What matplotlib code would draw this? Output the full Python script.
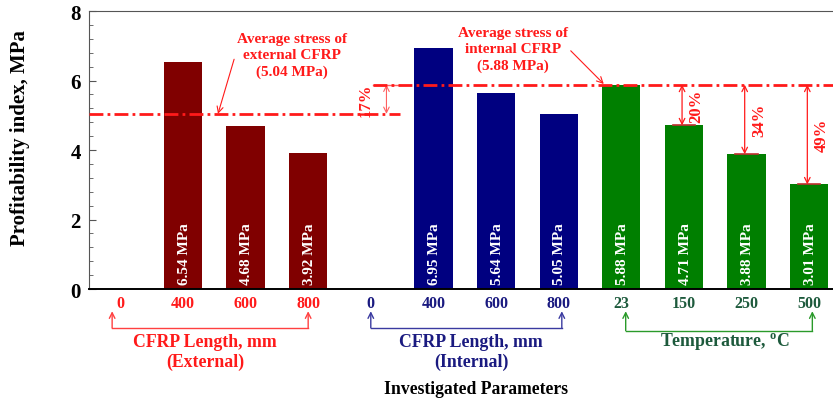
import matplotlib
matplotlib.use('Agg')
import matplotlib.pyplot as plt

plt.rcParams['font.family'] = ['Liberation Serif', 'DejaVu Serif']
plt.rcParams['font.weight'] = 'bold'

# data
ext_labels = ['0', '400', '600', '800']
ext_values = [0, 6.54, 4.68, 3.92]
int_labels = ['0', '400', '600', '800']
int_values = [0, 6.95, 5.64, 5.05]
temp_labels = ['23', '150', '250', '500']
temp_values = [5.88, 4.71, 3.88, 3.01]

avg_ext = 5.04
avg_int = 5.88
drop_ext = '17%'
drop_temp = ['20%', '34%', '49%']

RED = '#ff1a1a'
C_EXT = '#800000'
C_INT = '#000080'
C_TEMP = '#007f00'
T_INT = '#1a1a80'
T_TEMP = '#1d5a3c'


def main():
    fig = plt.figure(figsize=(8.33, 4.02), dpi=100)
    ax = fig.add_axes([0.1068, 0.2786, 0.8932, 0.6915])

    labels = ext_labels + int_labels + temp_labels
    values = ext_values + int_values + temp_values
    colors = [C_EXT] * 4 + [C_INT] * 4 + [C_TEMP] * 4
    tcolors = [RED] * 4 + [T_INT] * 4 + [T_TEMP] * 4
    xs = list(range(len(values)))

    for x, v, c in zip(xs, values, colors):
        if v <= 0:
            continue
        ax.bar(x, v, width=0.61, color=c, zorder=2)
        ax.text(x + 0.02, 0.15, '%.2f MPa' % v, rotation=90, color='white',
                ha='center', va='bottom', fontsize=11, zorder=3)

    ax.set_xlim(-0.5, 11.38)
    ax.set_ylim(0, 8)
    ax.set_yticks([0, 2, 4, 6, 8])
    ax.set_yticks([i * 0.4 for i in range(21)], minor=True)
    ax.tick_params(axis='y', which='major', direction='in', length=5,
                   labelsize=15, pad=6, color='#555555')
    ax.tick_params(axis='y', which='minor', direction='in', length=3,
                   color='#555555')
    ax.set_xticks(xs)
    ax.set_xticklabels(labels, fontsize=11.5)
    ax.tick_params(axis='x', length=0, pad=4)
    for t, c in zip(ax.get_xticklabels(), tcolors):
        t.set_color(c)
    ax.spines['right'].set_visible(False)
    ax.spines['top'].set_color('#555555')
    ax.spines['left'].set_color('#555555')
    ax.spines['bottom'].set_linewidth(1.4)

    fig.text(20 / 833, 0.657, 'Profitability index, MPa', rotation=90,
             ha='center', va='center', fontsize=15, fontweight='bold')
    fig.text(0.571, 0.03, 'Investigated Parameters', ha='center', va='center',
             fontsize=12.7, fontweight='bold')

    # average lines
    dash = (0, (5, 1.5, 1, 1.5))
    ax.plot([-0.5, 4.47], [avg_ext, avg_ext], color=RED, lw=2, ls=dash, zorder=4)
    ax.plot([4.04, 11.38], [avg_int, avg_int], color=RED, lw=2, ls=dash, zorder=4)

    ax.annotate('Average stress of\nexternal CFRP\n(%.2f MPa)' % avg_ext,
                xy=(1.56, avg_ext), xytext=(2.74, 6.73), color=RED,
                fontsize=11, ha='center', va='center', linespacing=1.3,
                arrowprops=dict(arrowstyle='->', color=RED, lw=0.8,
                                shrinkA=0, shrinkB=0,
                                relpos=(0.02, 0.78)))
    ax.annotate('Average stress of\ninternal CFRP\n(%.2f MPa)' % avg_int,
                xy=(7.72, avg_int + 0.02), xytext=(6.27, 6.9), color=RED,
                fontsize=11, ha='center', va='center', linespacing=1.3,
                arrowprops=dict(arrowstyle='->', color=RED, lw=0.8,
                                shrinkA=0, shrinkB=0,
                                relpos=(0.97, 0.6)))

    # 17% gap between averages
    ax.plot([4.04, 4.47], [avg_int, avg_int], color='#ff6060', lw=1)
    ax.annotate('', xy=(4.25, avg_int), xytext=(4.25, avg_ext),
                arrowprops=dict(arrowstyle='<->', color='#ff6060', lw=0.8,
                                shrinkA=0, shrinkB=0))
    ax.text(3.92, (avg_ext + avg_int) / 2, drop_ext, rotation=90, color=RED,
            ha='center', va='center', fontsize=12)

    # drops relative to 23 degC
    for i, p in enumerate(drop_temp):
        x = 9 + i
        v = temp_values[i + 1]
        ax.plot([x - 0.18, x + 0.18], [v, v], color='#c03030', lw=1.2, zorder=4)
        ax.annotate('', xy=(x - 0.03, v), xytext=(x - 0.03, avg_int),
                    arrowprops=dict(arrowstyle='<->', color=RED, lw=0.9,
                                    shrinkA=0, shrinkB=0), zorder=5)
        ax.text(x + 0.2, (v + avg_int) / 2, p, rotation=90, color=RED,
                ha='center', va='center', fontsize=12)

    # group brackets under the axis
    tr = ax.get_xaxis_transform()
    brackets = [(-0.13, 3.0, '#ff4040', RED, 'CFRP Length, mm\n(External)', 1.35),
                (4.0, 7.05, '#3a3aa0', T_INT, 'CFRP Length, mm\n(Internal)', 5.6),
                (8.07, 11.05, '#2a9a2a', T_TEMP, 'Temperature, $^\\mathregular{o}$C', 9.65)]
    for x0, x1, lc, tc, txt, tx in brackets:
        yl = -0.14 if x0 < 8 else -0.15
        ax.plot([x0, x1], [yl, yl], color=lc, lw=1, transform=tr, clip_on=False)
        for xe in (x0, x1):
            ax.annotate('', xy=(xe, -0.08), xytext=(xe, yl), xycoords=tr,
                        textcoords=tr,
                        arrowprops=dict(arrowstyle='->', color=lc, lw=1,
                                        shrinkA=0, shrinkB=0))
        ty = -0.225 if '\n' in txt else -0.19
        ax.text(tx, ty, txt, transform=tr, color=tc, ha='center', va='center',
                fontsize=12.8, linespacing=1.2)

    fig.savefig('out.png', dpi=100)


if __name__ == '__main__':
    main()
